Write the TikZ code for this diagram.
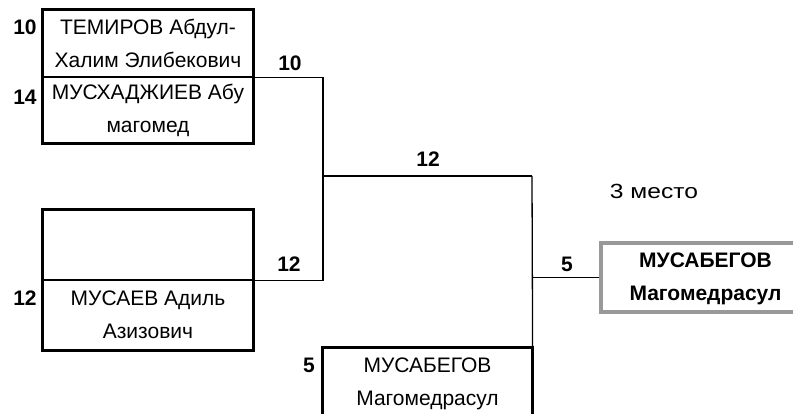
\documentclass[tikz,border=0pt]{standalone}
\usepackage{fontspec}
\setmainfont{Liberation Sans}
\begin{document}
\begin{tikzpicture}[x=1pt,y=-1pt,
  slot/.style={draw, line width=1.2pt, inner sep=0pt, minimum width=210pt, align=center,
    font=\fontsize{21}{33}\selectfont},
  frame/.style={draw, line width=3pt},
  conn/.style={draw, line width=1.3pt},
  num/.style={font=\fontsize{21}{21}\selectfont\bfseries, inner sep=0pt},
  final/.style={draw=black!40, line width=3.5pt, fill=white, inner sep=0pt,
    minimum width=300pt, minimum height=69pt},
  finaltext/.style={align=center, inner sep=0pt, font=\fontsize{21}{33}\selectfont\bfseries}]
\useasboundingbox (0,0) rectangle (793,414);
\clip (0,0) rectangle (793,414);
\fill[white] (0,0) rectangle (793,414);
% first pair
\node[slot, minimum height=67pt] (p1) at (148,43.5) {ТЕМИРОВ Абдул-\\Халим Элибекович};
\node[slot, minimum height=66pt] (p2) at (148,110) {МУСХАДЖИЕВ Абу\\магомед};
\draw[frame] (p1.north west) rectangle (p2.south east);
% second pair
\node[slot, minimum height=70pt] (p3) at (148,245) {};
\node[slot, minimum height=70pt] (p4) at (148,315) {МУСАЕВ Адиль\\Азизович};
\draw[frame] (p3.north west) rectangle (p4.south east);
% repechage box
\node[slot, minimum width=209pt, minimum height=72pt] (p5) at (427.5,384) {МУСАБЕГОВ\\Магомедрасул};
\draw[frame] (p5.north west) rectangle (p5.south east);
% final
\node[final] (f) at (751,277.5) {};
\node[finaltext] (ft) at (705.5,278.5) {МУСАБЕГОВ\\Магомедрасул};
% connectors
\coordinate (m1) at (323,176);
\coordinate (m2) at (532,176);
\draw[conn] (p1.south east) -| (m1);
\draw[conn] (p3.south east) -| (m1);
\draw[conn] (m1) -- (m2);
\draw[conn] (m2) -- (p5.north east);
\draw[conn] (f.west) -- (f.west -| m2);
% labels
\node[num] (l1) at (25,27) {10};
\node[num] (l2) at (25,97) {14};
\node[num] (l3) at (25,298) {12};
\node[num] (l4) at (290,63) {10};
\node[num] (l5) at (289,264) {12};
\node[num] (l6) at (428,159) {12};
\node[num] (l7) at (309,365) {5};
\node[num] (l8) at (567,264) {5};
\node[font=\fontsize{20.5}{24}\selectfont, inner sep=0pt] (t3) at (654,191) {\scalebox{1.2}[1]{3 место}};
\end{tikzpicture}
\end{document}
